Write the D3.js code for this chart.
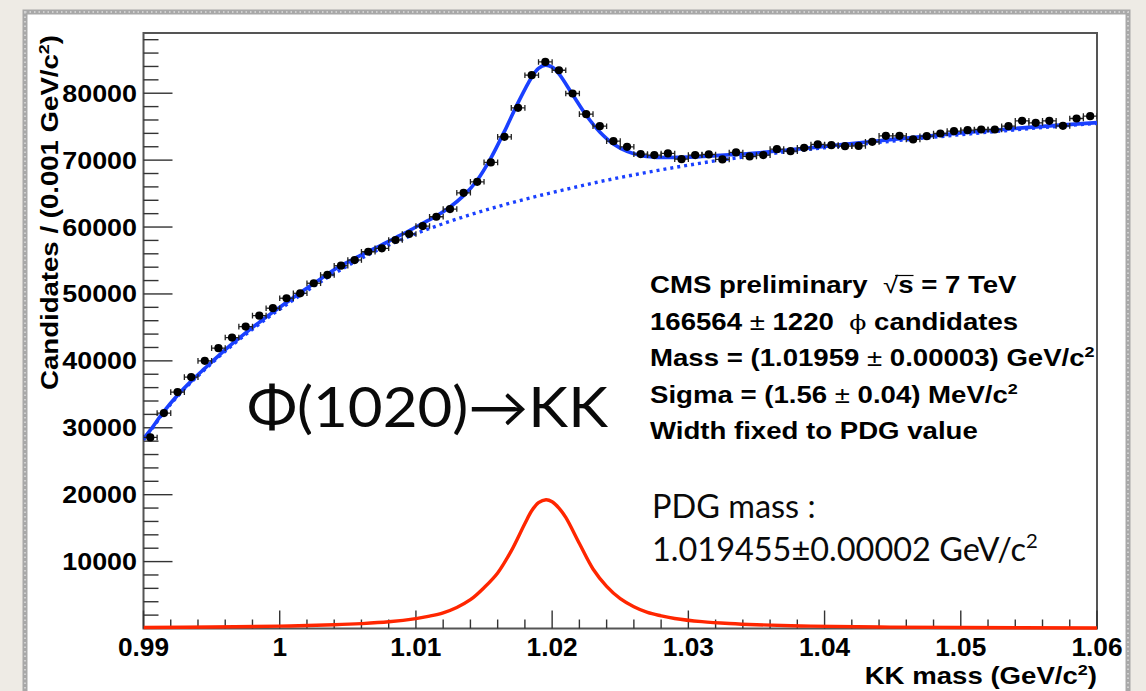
<!DOCTYPE html>
<html><head><meta charset="utf-8">
<script src="https://cdn.jsdelivr.net/npm/d3@7"></script>
<style>html,body{margin:0;padding:0;background:#eeebe5;} svg{display:block}</style>
</head><body>
<svg id="c" width="1146" height="691"></svg>
<script>
// ---------------- data ----------------
const binCenters = [0.9905,0.9915,0.9925,0.9935,0.9945,0.9955,0.9965,0.9975,0.9985,0.9995,
  1.0005,1.0015,1.0025,1.0035,1.0045,1.0055,1.0065,1.0075,1.0085,1.0095,
  1.0105,1.0115,1.0125,1.0135,1.0145,1.0155,1.0165,1.0175,1.0185,1.0195,
  1.0205,1.0215,1.0225,1.0235,1.0245,1.0255,1.0265,1.0275,1.0285,1.0295,
  1.0305,1.0315,1.0325,1.0335,1.0345,1.0355,1.0365,1.0375,1.0385,1.0395,
  1.0405,1.0415,1.0425,1.0435,1.0445,1.0455,1.0465,1.0475,1.0485,1.0495,
  1.0505,1.0515,1.0525,1.0535,1.0545,1.0555,1.0565,1.0575,1.0585,1.0595];
const counts = [28550,32190,35330,37570,40000,41900,43480,45120,46760,47870,
  49360,50100,51600,52840,54220,55070,56310,56820,58060,58960,
  60150,61540,62690,65120,66760,69660,73480,77810,82690,84670,
  83430,79960,76870,75070,72840,71990,70900,70750,71000,70150,
  70750,70850,70100,71150,70550,70750,71640,71340,71840,72340,
  72240,72090,72130,72730,73630,73630,73090,73580,73980,74330,
  74480,74580,74580,75070,75870,75570,75870,75120,76220,76570];
const binHalfWidth = 0.0005;

const fitMass = [0.9900,0.9905,0.9915,0.9925,0.9935,0.9945,0.9955,0.9965,0.9975,0.9985,
  0.9995,1.0005,1.0015,1.0025,1.0035,1.0045,1.0055,1.0065,1.0075,1.0085,
  1.0095,1.0105,1.0115,1.0125,1.0135,1.0145,1.0155,1.0165,1.0175,1.0185,
  1.0190,1.0195,1.0200,1.0205,1.0215,1.0225,1.0235,1.0245,1.0255,1.0265,
  1.0275,1.0285,1.0300,1.0315,1.0330,1.0345,1.0370,1.0400,1.0450,1.0500,
  1.0550,1.0600];
const fitTotal = [28340,29640,32450,34860,36970,38880,40750,42520,44190,45760,
  47290,48730,50170,51570,52950,54250,55300,56350,57350,58400,
  59450,60550,61650,63000,64700,67000,70300,74300,78600,82400,
  83700,84200,83900,82900,79800,76700,74200,72400,71300,70700,
  70450,70400,70450,70600,70800,71000,71450,72050,73100,74050,
  74900,75600];

const bkgMass = [0.9900,0.9905,0.9915,0.9925,0.9935,0.9945,0.9955,0.9965,0.9975,0.9985,
  0.9995,1.0005,1.0015,1.0025,1.0035,1.0045,1.0055,1.0065,1.0075,1.0085,
  1.0095,1.0105,1.0120,1.0140,1.0160,1.0180,1.0200,1.0220,1.0240,1.0260,
  1.0280,1.0300,1.0320,1.0340,1.0370,1.0400,1.0450,1.0500,1.0550,1.0600];
const bkgValues = [28200,29500,32300,34700,36800,38700,40550,42300,43950,45500,
  47000,48400,49800,51150,52450,53650,54800,55850,56850,57750,
  58600,59400,60500,61850,63050,64150,65150,66100,67000,67800,
  68550,69250,69900,70450,71200,71850,72850,73800,74700,75500];

const sigMass = [0.990,0.995,1.000,1.004,1.006,1.008,1.010,1.011,1.012,1.013,1.014,1.015,1.016,1.017,1.018,1.0185,1.019,
  1.01955,1.020,1.0205,1.021,1.022,1.023,1.024,1.025,1.026,1.027,1.028,1.029,1.031,1.033,1.035,1.039,1.044,1.050,1.060];
const sigValues = [150,225,350,560,730,1000,1480,1850,2350,3150,4300,6100,8300,11600,15700,17600,18800,
  19250,18950,18000,16600,12700,8900,6300,4450,3250,2400,1900,1500,1020,740,560,350,225,145,85];

const xTickValues = [0.99,1.00,1.01,1.02,1.03,1.04,1.05,1.06];
const xTickLabels = ["0.99","1","1.01","1.02","1.03","1.04","1.05","1.06"];
const yTickValues = [10000,20000,30000,40000,50000,60000,70000,80000];
const yTickLabels = ["10000","20000","30000","40000","50000","60000","70000","80000"];

// ---------------- layout ----------------
const svg = d3.select("#c");
const L = 143.5, R = 1097, T = 33, B = 628.5;
const x = d3.scaleLinear().domain([0.99, 1.06]).range([L, R]);
const y = d3.scaleLinear().domain([0, 89000]).range([B, T]);
const ROOTFONT = "'Liberation Sans', Arial, Helvetica, sans-serif";

// page background + card
svg.append("rect").attr("width",1146).attr("height",691).attr("fill","#eeebe5");
svg.append("rect").attr("x",25).attr("y",12).attr("width",1103).attr("height",700)
  .attr("fill","#ffffff").attr("stroke","#a8a8a8").attr("stroke-width",5);
svg.append("rect").attr("x",25).attr("y",12).attr("width",1103).attr("height",700)
  .attr("fill","none").attr("stroke","#d0d0d0").attr("stroke-width",2)
  .attr("stroke-dasharray","1.5,3");

// frame
svg.append("rect").attr("x",L).attr("y",T).attr("width",R-L).attr("height",B-T)
  .attr("fill","none").attr("stroke","#555").attr("stroke-width",2);

// ticks
const tickG = svg.append("g").attr("stroke","#333").attr("stroke-width",1.4);
d3.range(0.992, 1.0599, 0.002).forEach(v => {
  const major = xTickValues.some(t => Math.abs(t - v) < 1e-6);
  if (major) return;
  tickG.append("line").attr("x1",x(v)).attr("x2",x(v)).attr("y1",B).attr("y2",B-9);
});
xTickValues.forEach(v => tickG.append("line").attr("x1",x(v)).attr("x2",x(v)).attr("y1",B).attr("y2",B-18));
d3.range(2000, 88001, 2000).forEach(v => {
  const major = yTickValues.includes(v);
  tickG.append("line").attr("x1",L).attr("x2",L+(major?29:15)).attr("y1",y(v)).attr("y2",y(v));
});

// stretched text helper (ROOT fonts render wider)
function rootText(parent, tx, ty, anchor, sx, size, rot) {
  const g = parent.append("g").attr("transform",
    `translate(${tx},${ty})` + (rot ? ` rotate(${rot})` : "") + ` scale(${sx},1)`);
  const t = g.append("text").attr("text-anchor",anchor)
    .style("font-family",ROOTFONT).style("font-weight","bold")
    .style("font-size",size+"px").style("white-space","pre").attr("fill","#000");
  return {g, t};
}

xTickValues.forEach((v,i) => {
  rootText(svg, x(v), 656, "middle", 1.03, 25.5).t.text(xTickLabels[i]);
});
yTickValues.forEach((v,i) => {
  rootText(svg, 137, y(v)+8.5, "end", 1.12, 24).t.text(yTickLabels[i]);
});

// axis titles
{
  const {t} = rootText(svg, 1097, 684, "end", 1.2, 23);
  t.append("tspan").text("KK mass (GeV/c");
  t.append("tspan").text("2").style("font-size","15px").attr("dy",-9);
  t.append("tspan").text(")").attr("dy",9);
}
{
  const {t} = rootText(svg, 57.5, 35, "end", 1.2, 23, -90);
  t.append("tspan").text("Candidates / (0.001 GeV/c");
  t.append("tspan").text("2").style("font-size","15px").attr("dy",-9);
  t.append("tspan").text(")").attr("dy",9);
}

// curves
svg.append("clipPath").attr("id","fr").append("rect")
  .attr("x",L).attr("y",T).attr("width",R-L).attr("height",B-T+3);
const plot = svg.append("g").attr("clip-path","url(#fr)");
const line = d3.line().x(d => x(d[0])).y(d => y(d[1])).curve(d3.curveMonotoneX);
const smooth = d3.line().x(d => x(d[0])).y(d => y(d[1])).curve(d3.curveCatmullRom.alpha(0.5));

plot.append("path").datum(d3.zip(sigMass, sigValues)).attr("d", smooth)
  .attr("fill","none").attr("stroke","#ff2600").attr("stroke-width",3.4);
plot.append("path").datum(d3.zip(bkgMass, bkgValues)).attr("d", line)
  .attr("fill","none").attr("stroke","#1a40ff").attr("stroke-width",3.4)
  .attr("stroke-dasharray","3,4");
plot.append("path").datum(d3.zip(fitMass, fitTotal)).attr("d", smooth)
  .attr("fill","none").attr("stroke","#1a40ff").attr("stroke-width",3.6);

// data points
const pts = plot.append("g");
binCenters.forEach((m,i) => {
  const cx = x(m), cy = y(counts[i]);
  const x0 = x(m - binHalfWidth), x1 = x(m + binHalfWidth);
  pts.append("line").attr("x1",x0).attr("x2",x1).attr("y1",cy).attr("y2",cy)
    .attr("stroke","#222").attr("stroke-width",1.3);
  pts.append("line").attr("x1",x0).attr("x2",x0).attr("y1",cy-2.8).attr("y2",cy+2.8)
    .attr("stroke","#222").attr("stroke-width",1.3);
  pts.append("line").attr("x1",x1).attr("x2",x1).attr("y1",cy-2.8).attr("y2",cy+2.8)
    .attr("stroke","#222").attr("stroke-width",1.3);
  pts.append("circle").attr("cx",cx).attr("cy",cy).attr("r",4.1).attr("fill","#000");
});

// CMS text block
const lx = 650, base = [293, 330, 366, 403, 439];
{
  const {g, t} = rootText(svg, lx, base[0], "start", 1.2, 23);
  t.append("tspan").text("CMS preliminary  ");
  t.append("tspan").text("\u221A").style("font-weight","normal");
  t.append("tspan").text("s");
  t.append("tspan").text(" = 7 TeV");
  const n = t.node();
  const e1 = n.getExtentOfChar(17), e2 = n.getExtentOfChar(18);
  g.append("line").attr("x1", e1.x + e1.width*0.8).attr("x2", e2.x + e2.width)
    .attr("y1", -17.5).attr("y2", -17.5).attr("stroke","#000").attr("stroke-width",1.2);
}
{
  const {t} = rootText(svg, lx, base[1], "start", 1.2, 23);
  t.append("tspan").text("166564 ");
  t.append("tspan").text("\u00B1").style("font-weight","normal");
  t.append("tspan").text(" 1220  ");
  t.append("tspan").text("\u03D5").style("font-weight","normal").style("font-family","'DejaVu Serif', serif").style("font-size","21px");
  t.append("tspan").text(" candidates");
}
{
  const {t} = rootText(svg, lx, base[2], "start", 1.2, 23);
  t.append("tspan").text("Mass = (1.01959 ");
  t.append("tspan").text("\u00B1").style("font-weight","normal");
  t.append("tspan").text(" 0.00003) GeV/c");
  t.append("tspan").text("2").style("font-size","15px").attr("dy",-9);
}
{
  const {t} = rootText(svg, lx, base[3], "start", 1.2, 23);
  t.append("tspan").text("Sigma = (1.56 ");
  t.append("tspan").text("\u00B1").style("font-weight","normal");
  t.append("tspan").text(" 0.04) MeV/c");
  t.append("tspan").text("2").style("font-size","15px").attr("dy",-9);
}
rootText(svg, lx, base[4], "start", 1.2, 23).t.text("Width fixed to PDG value");

// big decay label and PDG note
function fitWidth(sel, target) {
  return target / sel.node().getComputedTextLength();
}
{
  const g = svg.append("g");
  const t = g.append("text").style("font-family","Lato, 'Open Sans', sans-serif")
    .style("font-size","56px").attr("fill","#0a0a0a").text("\u03A6(1020)\u2192KK");
  const s = fitWidth(t, 361);
  g.attr("transform", `translate(247,427) scale(${s},1)`);
}
{
  const g1 = svg.append("g");
  g1.append("text").style("font-family","Lato, 'Open Sans', sans-serif")
    .style("font-size","32px").attr("fill","#0a0a0a").text("PDG mass :");
  const g2 = svg.append("g");
  const t2 = g2.append("text").style("font-family","Lato, 'Open Sans', sans-serif")
    .style("font-size","32px").attr("fill","#0a0a0a");
  t2.append("tspan").text("1.019455\u00B10.00002 GeV/c");
  t2.append("tspan").text("2").style("font-size","20px").attr("dy",-13);
  const s = fitWidth(t2, 386);
  g1.attr("transform", `translate(652,518) scale(${s},1)`);
  g2.attr("transform", `translate(652,561) scale(${s},1)`);
}
</script>
</body></html>
